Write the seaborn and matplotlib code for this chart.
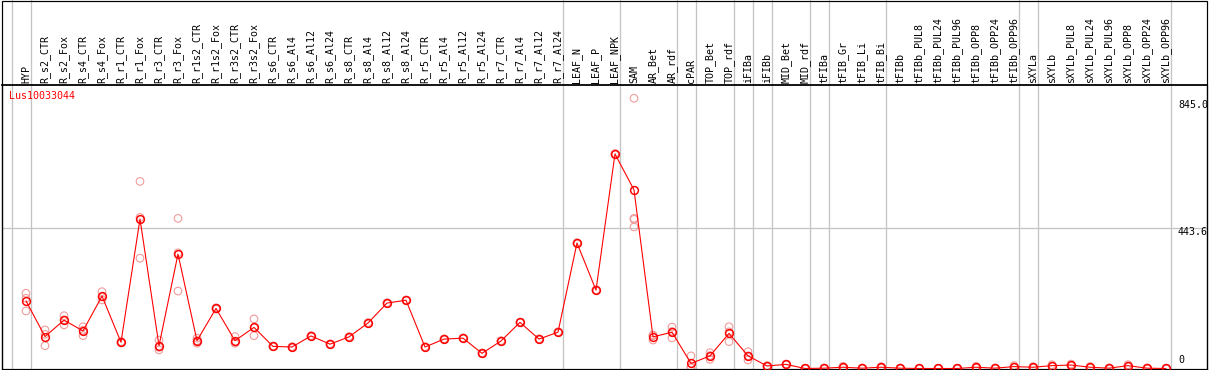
import matplotlib
matplotlib.use("Agg")
import matplotlib.pyplot as plt
import seaborn as sns
import pandas as pd
from matplotlib.patches import Rectangle

title = "Lus10033044"

categories = [
    "HYP",
    "R_s2_CTR", "R_s2_Fox", "R_s4_CTR", "R_s4_Fox", "R_r1_CTR", "R_r1_Fox",
    "R_r3_CTR", "R_r3_Fox", "R_r1s2_CTR", "R_r1s2_Fox", "R_r3s2_CTR", "R_r3s2_Fox",
    "R_s6_CTR", "R_s6_Al4", "R_s6_Al12", "R_s6_Al24",
    "R_s8_CTR", "R_s8_Al4", "R_s8_Al12", "R_s8_Al24",
    "R_r5_CTR", "R_r5_Al4", "R_r5_Al12", "R_r5_Al24",
    "R_r7_CTR", "R_r7_Al4", "R_r7_Al12", "R_r7_Al24",
    "LEAF_N", "LEAF_P", "LEAF_NPK",
    "SAM", "AR_Bet", "AR_rdf",
    "cPAR", "TOP_Bet", "TOP_rdf", "iFIBa", "iFIBb", "MID_Bet", "MID_rdf",
    "tFIBa", "tFIB_Gr", "tFIB_Li", "tFIB_Bi",
    "tFIBb", "tFIBb_PUL8", "tFIBb_PUL24", "tFIBb_PUL96",
    "tFIBb_OPP8", "tFIBb_OPP24", "tFIBb_OPP96",
    "sXYLa", "sXYLb", "sXYLb_PUL8", "sXYLb_PUL24", "sXYLb_PUL96",
    "sXYLb_OPP8", "sXYLb_OPP24", "sXYLb_OPP96",
]

mean_values = [
    214,
    101, 153, 119, 229, 83, 473,
    72, 362, 88, 190, 88, 130,
    70, 68, 103, 77,
    100, 144, 207, 216,
    68, 93, 96, 48,
    87, 146, 93, 115,
    397, 248, 679,
    565, 100, 115,
    16, 40, 111, 40, 8, 13, 0,
    1, 4, 1, 4,
    1, 0, 0, 0,
    4, 1, 6,
    4, 9, 11, 4, 1,
    9, 1, 0,
]

replicates = [
    [238, 222, 182],
    [122, 72, 108], [167, 138, 154], [132, 104, 121], [243, 217, 227], [83, 81, 85], [592, 349, 478],
    [90, 59, 67], [475, 245, 366], [96, 80, 88], [190, 188, 192], [101, 83, 80], [157, 104, 129],
    [70, 69, 71], [68, 67, 69], [103, 102, 104], [77, 76, 78],
    [100, 99, 101], [144, 143, 145], [207, 206, 208], [216, 215, 217],
    [68, 67, 69], [93, 92, 94], [96, 95, 97], [48, 47, 49],
    [87, 86, 88], [146, 145, 147], [93, 92, 94], [115, 114, 116],
    [397, 396, 398], [248, 247, 249], [679, 678, 680],
    [855, 475, 472, 448], [106, 90, 104], [131, 97, 117],
    [40, 2, 6], [50, 29, 41], [132, 85, 116], [53, 27, 40], [8, 7, 9], [13, 12, 14], [0, 0, 1],
    [1, 0, 2], [7, 2, 3], [1, 0, 2], [6, 2, 4],
    [1, 0, 2], [0, 0, 1], [0, 0, 1], [0, 0, 1],
    [7, 2, 3], [1, 0, 2], [9, 4, 5],
    [6, 2, 4], [12, 7, 8], [14, 9, 10], [6, 2, 4], [1, 0, 2],
    [12, 7, 8], [1, 0, 2], [0, 0, 1],
]

# last index of each sample group (-1 = left edge line)
group_ends = [-1, 0, 28, 31, 34, 35, 37, 38, 39, 41, 42, 45, 52, 53, 60]

y_tick_values = [845.0, 443.6, 0.0]
y_tick_labels = ["845.0", "443.6", "0"]

# ---------------------------------------------------------------
W, H = 1209, 370
sns.set_style("white")
plt.rcParams["font.family"] = ["DejaVu Sans Mono", "DejaVu Sans"]

main_df = pd.DataFrame({"idx": range(len(categories)), "value": mean_values})
rep_rows = [(i, v) for i, reps in enumerate(replicates) for v in reps]
rep_df = pd.DataFrame(rep_rows, columns=["idx", "value"])

fig = plt.figure(figsize=(W / 100, H / 100), dpi=100)
ax = fig.add_axes([2 / W, 1 / H, 1205 / W, 284 / H])

grid_col = "#c4c4c4"
px = 0.72  # one pixel in points

# group separators extending into the label strip
for e in group_ends:
    ax.axvline(e + 0.263, ymin=0, ymax=369 / 284, color=grid_col, lw=1.3 * px,
               clip_on=False, zorder=0)
ax.axhline(443.6, color=grid_col, lw=1.3 * px, zorder=0)

sns.scatterplot(data=rep_df, x="idx", y="value", ax=ax, marker="o", s=30,
                facecolors="none", edgecolors="#f09a9a", linewidth=1.1 * px,
                zorder=2, legend=False)
sns.lineplot(data=main_df, x="idx", y="value", ax=ax, color="#ff0000",
             lw=1.1 * px, marker="o", markersize=5.6, markerfacecolor="none",
             markeredgecolor="#ff0000", markeredgewidth=1.5 * px, zorder=3,
             legend=False)

ax.set_xlim((2 - 26) / 19, (1207 - 26) / 19)
ax.set_ylim(-1.6, 897)

ax.set_xticks(list(range(len(categories))))
ax.set_xticklabels(categories, rotation=90, fontsize=7.2)
ax.xaxis.tick_top()
ax.tick_params(axis="x", length=0, pad=1.4, colors="black")
ax.set_yticks([])
ax.set_xlabel("")
ax.set_ylabel("")

for sp in ax.spines.values():
    sp.set_color("black")
    sp.set_linewidth(1.2 * px)
ax.spines["top"].set_linewidth(1.8 * px)

ytr = ax.get_yaxis_transform()
for v, lab in zip(y_tick_values, y_tick_labels):
    if v == 0:
        ax.text((1178 - 2) / 1205, 9.5, lab, transform=ytr, ha="left",
                va="bottom", fontsize=7.2, color="black")
    else:
        ax.text((1178 - 2) / 1205, v + 4, lab, transform=ytr, ha="left",
                va="top", fontsize=7.2, color="black")

fig.text(9 / W, 1 - 91 / H, title, color="#ff0000", fontsize=7.2,
         ha="left", va="top")

fig.patches.append(Rectangle((1.5 / W, 0.5 / H), 1205.5 / W, 369 / H,
                             transform=fig.transFigure, fill=False,
                             ec="black", lw=1.2 * px))

fig.savefig("out.png", dpi=100)
